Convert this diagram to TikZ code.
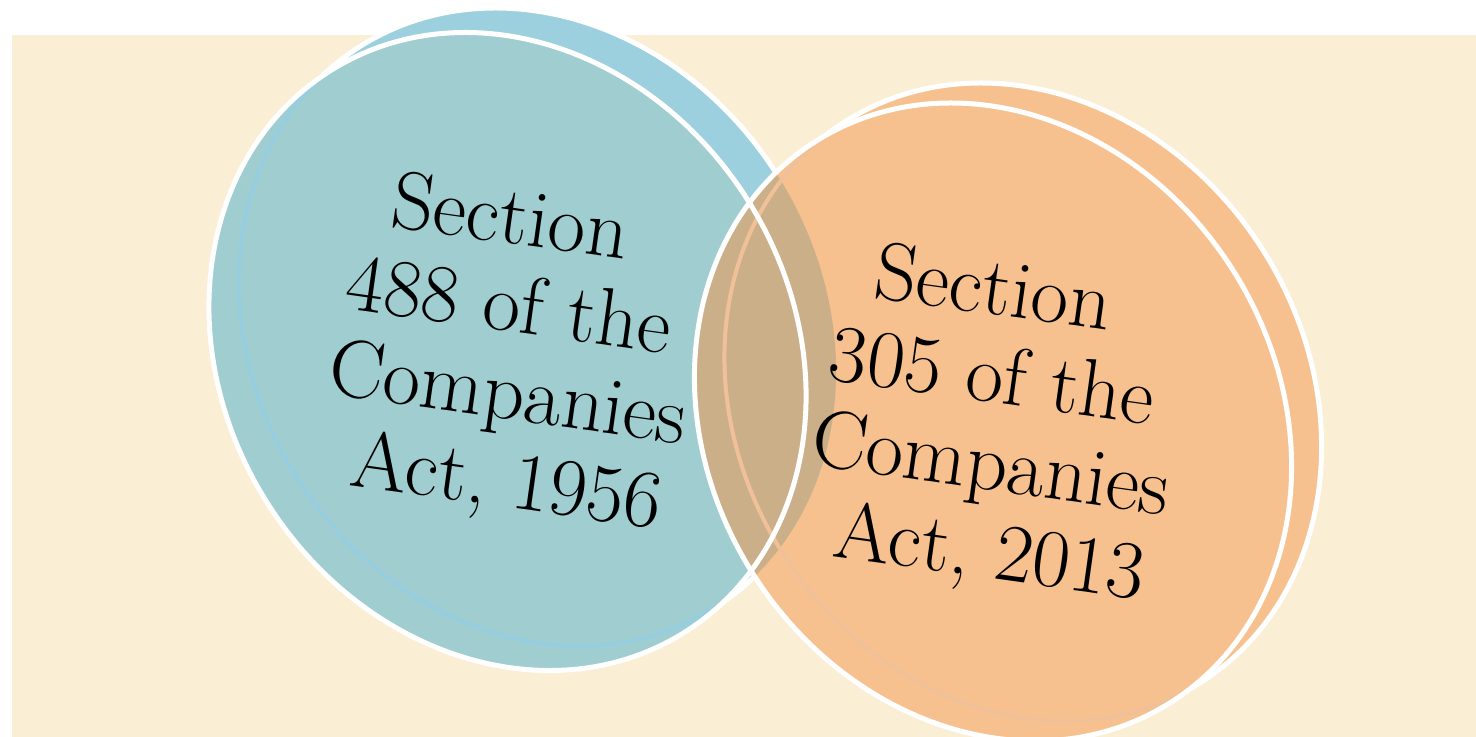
\documentclass[tikz,border=0pt]{standalone}
\usepackage{fontspec}
\definecolor{paper}{RGB}{250,238,213}
\definecolor{bluefill}{RGB}{160,205,208}
\definecolor{blueback}{RGB}{156,208,222}
\definecolor{blueline}{RGB}{150,206,224}
\definecolor{orangefill}{RGB}{247,193,143}
\definecolor{overlap}{RGB}{203,175,136}
\definecolor{paleorange}{RGB}{240,193,153}
\tikzset{
  venn/.style={x radius=332, y radius=284, rotate=-57.6},
  rim/.style={draw=white, line width=2.5pt},
  lbl/.style={font=\fontsize{41}{43.6}\selectfont, align=center, rotate=-8, inner sep=0pt},
}
\begin{document}
\begin{tikzpicture}[x=0.5pt,y=-0.5pt]
        \useasboundingbox (0,0) rectangle (1476,737);
        %background
        \fill[white] (0,0) rectangle (1476,737);
        \fill[paper] (12,35) rectangle (1476,737);

        \coordinate (bf) at (507.5,351.5);
        \coordinate (bb) at (537.5,327);
        \coordinate (of) at (993,422);
        \coordinate (ob) at (1023,402);

        %blue circle
        \filldraw[fill=blueback,rim] (bb) ellipse [venn];
        \fill[bluefill] (bf) ellipse [venn];
        \begin{scope}
            \clip (bf) ellipse [venn];
            \draw[blueline,line width=2pt] (bb) ellipse [venn];
        \end{scope}
        %orange circle
        \filldraw[fill=orangefill,rim] (ob) ellipse [venn];
        \fill[orangefill] (of) ellipse [venn];
        \begin{scope}
            \clip (of) ellipse [venn];
            \draw[paleorange,line width=2pt] (ob) ellipse [venn];
        \end{scope}

        %overlap
        \begin{scope}
            \clip (of) ellipse [venn] (ob) ellipse [venn];
            \clip (bf) ellipse [venn] (bb) ellipse [venn];
            \fill[overlap] (0,0) rectangle (1476,737);
            \draw[paleorange,line width=2pt] (ob) ellipse [venn];
        \end{scope}
        \draw[rim] (bf) ellipse [venn];
        \draw[rim] (of) ellipse [venn];

        %labels
        \node[lbl] (old) at (491.7,352.3) {Section\\ \hspace*{11pt}488 of the\\
            \hspace*{22pt}Companies\\ \hspace*{33pt}Act, 1956};
        \node[lbl] (new) at (974.7,423.3) {Section\\ \hspace*{11pt}305 of the\\
            \hspace*{22pt}Companies\\ \hspace*{33pt}Act, 2013};

\end{tikzpicture}
\end{document}
